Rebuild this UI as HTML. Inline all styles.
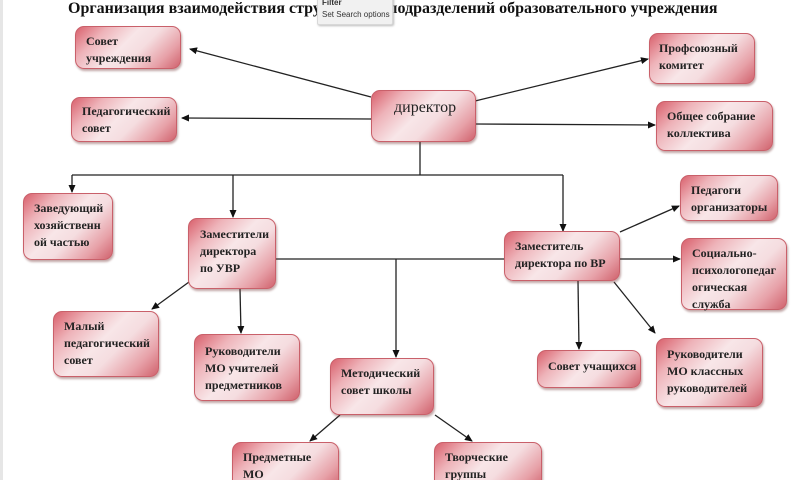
<!DOCTYPE html>
<html><head><meta charset="utf-8"><style>
html,body{margin:0;width:800px;height:480px;overflow:hidden;}
body{background:#fff;position:relative;font-family:"Liberation Serif","Noto Serif CJK SC",serif;}
.b{position:absolute;box-sizing:border-box;border:1px solid #c9606a;border-radius:9px;
background:linear-gradient(135deg,#d9606c 0%,#eeb3b9 22%,#f8e6e8 45%,#f5dde0 60%,#e7a1a8 82%,#d0626d 100%);
box-shadow:1px 2px 2px rgba(120,60,60,.45);font-weight:bold;font-size:12px;line-height:17px;color:#222;padding:6px 0 0 10px;white-space:nowrap;}
svg{position:absolute;left:0;top:0}
.t{position:absolute;left:68px;top:0;font-weight:bold;font-size:16px;white-space:nowrap;color:#111}
.tip{position:absolute;left:317px;top:-4px;width:76px;height:29px;background:#f1f1f1;border:1px solid #d8d8d8;border-radius:2px;font-family:"Liberation Sans",sans-serif;font-size:8px;color:#333;line-height:12px;padding-left:4px;box-sizing:border-box;box-shadow:1px 1px 2px #bbb;white-space:nowrap;overflow:hidden}
</style></head><body>
<div style="position:absolute;left:0;top:0;width:3px;height:480px;background:#e6e6e6"></div>
<div class="t">Организация взаимодействия структурных подразделений образовательного учреждения</div>
<div class="tip"><b>Filter</b><br>Set Search options</div>
<svg width="800" height="480"><defs><marker id="a" markerWidth="8" markerHeight="8" refX="7" refY="4" orient="auto" markerUnits="userSpaceOnUse"><path d="M0,0.5 L8,4 L0,7.5z" fill="#111"/></marker></defs>
<g stroke="#222" stroke-width="1.3" fill="none">
<line x1="371" y1="97" x2="190" y2="49" marker-end="url(#a)"/>
<line x1="371" y1="119" x2="182" y2="118" marker-end="url(#a)"/>
<line x1="475" y1="101" x2="648" y2="59" marker-end="url(#a)"/>
<line x1="475" y1="124" x2="655" y2="125" marker-end="url(#a)"/>
<line x1="420" y1="141" x2="420" y2="175"/>
<line x1="72" y1="175" x2="563" y2="175"/>
<line x1="72" y1="175" x2="72" y2="192" marker-end="url(#a)"/>
<line x1="233" y1="175" x2="233" y2="217" marker-end="url(#a)"/>
<line x1="563" y1="175" x2="563" y2="231" marker-end="url(#a)"/>
<line x1="275" y1="259" x2="504" y2="259"/>
<line x1="396" y1="259" x2="396" y2="357" marker-end="url(#a)"/>
<line x1="189" y1="282" x2="152" y2="309" marker-end="url(#a)"/>
<line x1="240" y1="289" x2="241" y2="333" marker-end="url(#a)"/>
<line x1="620" y1="232" x2="679" y2="206" marker-end="url(#a)"/>
<line x1="619" y1="259" x2="680" y2="259" marker-end="url(#a)"/>
<line x1="578" y1="281" x2="579" y2="349" marker-end="url(#a)"/>
<line x1="614" y1="282" x2="655" y2="333" marker-end="url(#a)"/>
<line x1="340" y1="415" x2="310" y2="441" marker-end="url(#a)"/>
<line x1="435" y1="415" x2="472" y2="441" marker-end="url(#a)"/>
</g></svg>
<div class="b" style="left:75px;top:26px;width:106px;height:43px">Совет<br>учреждения</div>
<div class="b" style="left:71px;top:97px;width:106px;height:45px;padding-top:5px">Педагогический<br>совет</div>
<div class="b" style="left:371px;top:90px;width:105px;height:52px;font-weight:normal;font-size:16px;padding:8px 0 0 22px">директор</div>
<div class="b" style="left:649px;top:33px;width:106px;height:51px;padding-left:9px">Профсоюзный<br>комитет</div>
<div class="b" style="left:656px;top:101px;width:117px;height:50px">Общее собрание<br>коллектива</div>
<div class="b" style="left:23px;top:193px;width:90px;height:67px;padding-left:10px">Заведующий<br>хозяйственн<br>ой частью</div>
<div class="b" style="left:188px;top:218px;width:88px;height:71px;padding-top:7px;padding-left:11px">Заместители<br>директора<br>по УВР</div>
<div class="b" style="left:504px;top:231px;width:116px;height:50px;padding-top:6px;padding-left:10px">Заместитель<br>директора по ВР</div>
<div class="b" style="left:680px;top:175px;width:98px;height:46px">Педагоги<br>организаторы</div>
<div class="b" style="left:681px;top:238px;width:106px;height:72px;padding-top:6px">Социально-<br>психологопедаг<br>огическая<br>служба</div>
<div class="b" style="left:53px;top:311px;width:106px;height:66px;padding-top:6px">Малый<br>педагогический<br>совет</div>
<div class="b" style="left:194px;top:334px;width:106px;height:67px;padding-top:8px">Руководители<br>МО учителей<br>предметников</div>
<div class="b" style="left:330px;top:358px;width:104px;height:57px;padding-top:6px">Методический<br>совет школы</div>
<div class="b" style="left:537px;top:350px;width:104px;height:38px;padding-top:7px">Совет учащихся</div>
<div class="b" style="left:656px;top:338px;width:107px;height:69px;padding-top:7px">Руководители<br>МО классных<br>руководителей</div>
<div class="b" style="left:232px;top:442px;width:107px;height:50px;padding-top:6px">Предметные<br>МО</div>
<div class="b" style="left:434px;top:442px;width:108px;height:50px;padding-top:6px">Творческие<br>группы</div>
</body></html>
